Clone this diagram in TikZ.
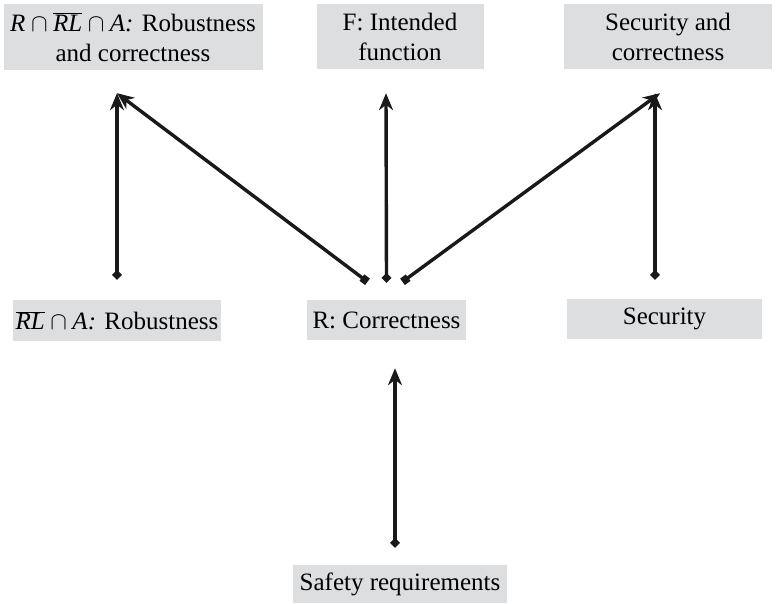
\documentclass[tikz,border=0pt]{standalone}
\usepackage{fontspec}
\setmainfont{Liberation Serif}
\usetikzlibrary{arrows.meta}
\definecolor{boxgray}{RGB}{221,222,223}
\definecolor{ink}{RGB}{25,25,25}

\begin{document}
\begin{tikzpicture}
        [x=1pt,y=-1pt,
         every node/.style={rectangle,fill=boxgray,align=center,inner sep=0pt,
           font=\fontsize{25}{30}\selectfont},
         link/.style={ink,line width=3.4pt,-{Stealth[length=17pt,width=14pt]}},
         dtail/.style={link,{Diamond[length=10pt,width=10pt]}-{Stealth[length=17pt,width=14pt]}},
         stail/.style={link,{Square[length=7pt,width=8pt]}-{Stealth[length=17pt,width=14pt]}}]
        \useasboundingbox (0,0) rectangle (778,603);

        \node[minimum width=259pt,minimum height=66pt] (rrl) at (133,37)
          {$\textit{R}\cap\overline{\textit{RL}}\cap\textit{A}$\textit{:} Robustness\\and correctness};
        \node[minimum width=167pt,minimum height=65pt] (func) at (400,36.5) {F: Intended\\function};
        \node[minimum width=208pt,minimum height=65pt] (secc) at (668,36.5) {Security and\\correctness};

        \node[minimum width=208pt,minimum height=41pt] (rob) at (117,320.5)
          {$\overline{\textit{RL}}\cap\textit{A}$\textit{:} Robustness};
        \node[minimum width=159pt,minimum height=40pt] (corr) at (386.5,320) {R: Correctness};
        \node[minimum width=195pt,minimum height=40pt] (sec) at (664.5,319) {Security};

        \node[minimum width=214pt,minimum height=38pt] (safe) at (400,584) {Safety requirements};

        \draw[dtail] ([shift={(0,-20)}]rob.north) -- ([shift={(-16,23)}]rrl.south);
        \draw[stail] ([shift={(-19,-18)}]corr.north) -- ([shift={(-16,23)}]rrl.south);
        \draw[dtail] ([shift={(0,-17)}]corr.north) -- ([shift={(-14,24)}]func.south);
        \draw[stail] ([shift={(16,-18)}]corr.north) -- ([shift={(-8,24)}]secc.south);
        \draw[dtail] ([shift={(-9.5,-19)}]sec.north) -- ([shift={(-13,24)}]secc.south);
        \draw[dtail] ([shift={(-5,-17)}]safe.north) -- ([shift={(8.5,28)}]corr.south);

      \end{tikzpicture}
\end{document}
